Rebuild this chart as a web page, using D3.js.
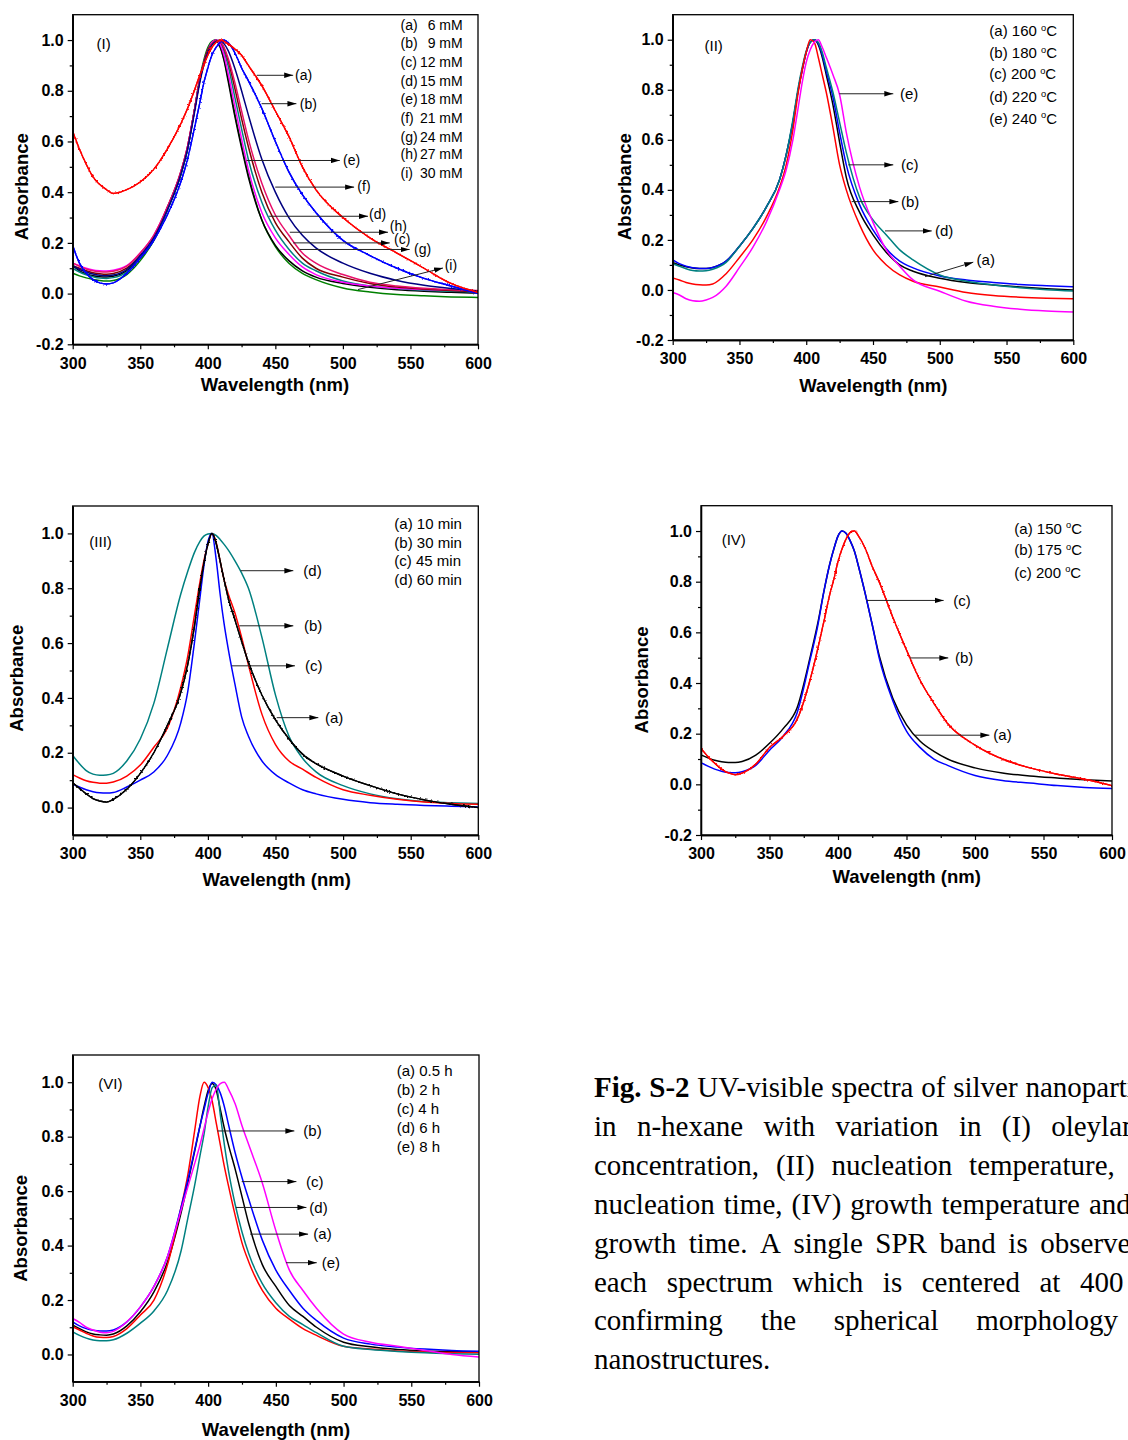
<!DOCTYPE html>
<html>
<head>
<meta charset="utf-8">
<script src="https://cdn.jsdelivr.net/npm/d3@7"></script>
<style>
  html, body { margin: 0; padding: 0; background: #fff; overflow: hidden; }
  #figure { position: absolute; left: 0; top: 0; }
  .tick text { font-family: "Liberation Sans", Arial, sans-serif; font-weight: bold; font-size: 16px; fill: #000; }
  .axis .domain { stroke: #000; stroke-width: 1.3px; }
  .axis line { stroke: #000; stroke-width: 1.2px; }
</style>
</head>
<body>
<svg id="figure" width="1128" height="1440"></svg>
<script>
// Shared wavelength grid (nm) for every spectrum
const wavelengths = [300,305,310,315,320,325,330,340,350,360,370,380,385,390,394,397,400,403,406,409,412,415,420,425,430,440,450,460,470,480,500,520,540,560,580,600];

// (I) oleylamine concentration
const oleyl6mM  = [.64,.57,.51,.46,.43,.41,.395,.41,.44,.49,.57,.67,.73,.80,.86,.90,.94,.97,.99,1.0,.995,.985,.965,.94,.90,.82,.72,.62,.50,.41,.30,.22,.16,.10,.04,.005];
const oleyl9mM  = [.19,.12,.08,.055,.042,.038,.042,.08,.14,.21,.31,.44,.53,.65,.75,.83,.89,.94,.97,.99,1.0,.99,.95,.89,.84,.73,.60,.48,.39,.32,.21,.15,.10,.06,.03,.0];
const oleyl12mM = [.11,.10,.09,.082,.078,.076,.079,.10,.15,.22,.34,.48,.58,.72,.84,.91,.96,.985,.998,.995,.967,.92,.81,.69,.58,.40,.28,.205,.14,.10,.065,.04,.026,.018,.012,.008];
const oleyl15mM = [.10,.085,.074,.066,.061,.06,.063,.085,.14,.21,.33,.47,.57,.72,.84,.91,.96,.99,1.0,.99,.955,.90,.775,.65,.53,.36,.25,.175,.12,.09,.05,.03,.02,.013,.009,.007];
const oleyl18mM = [.11,.09,.078,.07,.066,.065,.068,.09,.14,.21,.33,.47,.57,.72,.84,.91,.96,.99,1.0,.975,.92,.84,.70,.575,.46,.29,.19,.13,.09,.065,.04,.025,.015,.009,.005,.002];
const oleyl21mM = [.11,.095,.085,.077,.072,.07,.073,.095,.15,.22,.33,.47,.57,.71,.83,.90,.95,.98,.995,.999,.986,.959,.889,.80,.705,.53,.40,.30,.23,.18,.12,.08,.052,.033,.02,.01];
const oleyl24mM = [.12,.11,.10,.093,.09,.089,.092,.11,.16,.23,.34,.48,.58,.72,.84,.91,.96,.99,1.0,.984,.94,.87,.74,.61,.49,.32,.22,.155,.105,.075,.045,.03,.021,.016,.013,.011];
const oleyl27mM = [.12,.108,.097,.09,.086,.085,.088,.108,.16,.23,.34,.48,.58,.72,.84,.90,.95,.985,.998,.995,.971,.929,.833,.72,.61,.435,.31,.23,.16,.12,.075,.045,.03,.021,.015,.012];
const oleyl30mM = [.08,.07,.062,.056,.052,.05,.052,.075,.13,.21,.33,.47,.57,.72,.85,.92,.97,.995,1.0,.975,.925,.85,.71,.585,.47,.29,.185,.12,.08,.055,.022,.006,-.004,-.009,-.013,-.015];
const concentrationTags = ["(a)","(b)","(c)","(d)","(e)","(f)","(g)","(h)","(i)"];
const concentrationValues = ["6 mM","9 mM","12 mM","15 mM","18 mM","21 mM","24 mM","27 mM","30 mM"];

// (II) nucleation temperature
const nucT160 = [.11,.10,.093,.088,.086,.086,.09,.115,.175,.245,.33,.44,.54,.67,.80,.88,.95,.99,1.0,.98,.93,.86,.74,.59,.45,.31,.22,.15,.10,.075,.047,.03,.02,.012,.005,.0];
const nucT180 = [.048,.04,.03,.024,.021,.02,.024,.065,.13,.20,.29,.41,.50,.64,.79,.88,.95,1.0,.99,.93,.86,.79,.65,.50,.40,.26,.16,.10,.06,.035,.012,-.01,-.022,-.029,-.033,-.035];
const nucT200 = [.12,.105,.095,.089,.086,.086,.09,.115,.175,.245,.33,.44,.54,.67,.80,.88,.95,.99,1.0,.985,.94,.875,.77,.63,.50,.34,.24,.165,.115,.088,.056,.04,.03,.022,.017,.013];
const nucT220 = [.105,.095,.085,.078,.076,.077,.083,.11,.175,.245,.33,.44,.54,.68,.81,.89,.955,.99,1.0,.99,.95,.89,.79,.67,.55,.37,.28,.22,.16,.12,.06,.035,.02,.009,.001,-.004];
const nucT240 = [-.01,-.02,-.035,-.043,-.045,-.04,-.03,.015,.09,.17,.27,.40,.48,.60,.73,.83,.91,.96,.99,1.0,.97,.93,.86,.78,.63,.41,.27,.16,.095,.04,-.005,-.045,-.065,-.077,-.084,-.088];
const nucTempLabels = ["(a) 160 ","(b) 180 ","(c) 200 ","(d) 220 ","(e) 240 "];

// (III) nucleation time
const nucTime10 = [.09,.07,.05,.033,.024,.02,.03,.067,.125,.20,.30,.42,.52,.66,.80,.89,.96,1.0,.965,.90,.83,.765,.685,.605,.53,.41,.32,.25,.195,.16,.115,.08,.05,.028,.012,.0];
const nucTime30 = [.12,.108,.098,.092,.089,.089,.093,.115,.155,.22,.29,.44,.55,.70,.82,.90,.96,1.0,.97,.90,.83,.78,.71,.62,.52,.34,.23,.17,.14,.11,.065,.045,.03,.02,.015,.012];
const nucTime45 = [.085,.075,.065,.058,.054,.053,.055,.075,.10,.13,.19,.31,.42,.60,.76,.88,.97,1.0,.91,.78,.67,.58,.45,.33,.26,.17,.12,.09,.065,.05,.03,.018,.012,.008,.005,.002];
const nucTime60 = [.19,.16,.135,.122,.118,.119,.125,.17,.25,.38,.58,.78,.86,.93,.97,.99,.998,1.0,.993,.978,.96,.94,.90,.855,.80,.62,.41,.26,.18,.13,.08,.05,.032,.022,.018,.015];
const nucTimeLabels = ["(a) 10 min","(b) 30 min","(c) 45 min","(d) 60 min"];

// (IV) growth temperature
const grT150 = [.116,.105,.095,.089,.086,.086,.09,.115,.162,.22,.30,.51,.63,.77,.87,.93,.98,1.0,.99,.96,.92,.86,.75,.63,.51,.34,.235,.17,.13,.10,.065,.045,.033,.025,.018,.013];
const grT175 = [.142,.11,.083,.06,.045,.038,.044,.08,.145,.19,.255,.42,.53,.65,.75,.81,.88,.93,.97,.995,1.0,.98,.93,.86,.80,.66,.53,.41,.32,.24,.155,.10,.065,.04,.02,-.005];
const grT200 = [.086,.072,.06,.052,.047,.046,.05,.075,.135,.19,.28,.50,.62,.77,.87,.93,.98,1.0,.99,.96,.92,.86,.75,.63,.50,.33,.21,.145,.10,.075,.035,.015,.005,-.005,-.012,-.016];
const grTempLabels = ["(a) 150 ","(b) 175 ","(c) 200 "];

// (VI) growth time
const grTime05 = [.108,.095,.083,.075,.072,.071,.075,.105,.157,.23,.34,.52,.63,.745,.84,.91,.97,.995,.97,.90,.83,.77,.68,.58,.48,.33,.25,.18,.14,.10,.045,.028,.018,.013,.011,.01];
const grTime2  = [.102,.09,.078,.068,.063,.062,.066,.095,.145,.20,.33,.54,.66,.82,.95,1.0,.98,.93,.85,.77,.69,.62,.51,.41,.34,.235,.17,.13,.095,.07,.03,.02,.013,.009,.007,.006];
const grTime4  = [.12,.105,.095,.089,.086,.086,.09,.12,.175,.25,.36,.54,.64,.75,.84,.90,.96,1.0,.99,.96,.91,.845,.74,.65,.57,.42,.31,.235,.17,.125,.06,.038,.027,.02,.015,.012];
const grTime6  = [.083,.07,.06,.053,.05,.05,.054,.078,.115,.16,.235,.38,.50,.62,.73,.81,.91,.98,.99,.88,.77,.675,.55,.45,.37,.26,.19,.14,.11,.08,.03,.018,.011,.006,.003,.001];
const grTime8  = [.132,.118,.10,.09,.082,.08,.085,.12,.175,.25,.36,.53,.615,.70,.77,.83,.89,.94,.975,.995,1.0,.975,.92,.84,.77,.63,.455,.31,.235,.17,.075,.045,.03,.015,.0,-.009];
const grTimeLabels = ["(a) 0.5 h","(b) 2 h","(c) 4 h","(d) 6 h","(e) 8 h"];

const xTickValues = [300,350,400,450,500,550,600];
const xMinorValues = [325,375,425,475,525,575];

// caption text, one entry per printed line; the first line opens with two bold words
const captionLines = [
  "Fig. S-2 UV-visible spectra of silver nanoparticles",
  "in n-hexane with variation in (I) oleylamine",
  "concentration, (II) nucleation temperature, (III)",
  "nucleation time, (IV) growth temperature and (V)",
  "growth time. A single SPR band is observed in",
  "each spectrum which is centered at 400 nm",
  "confirming the spherical morphology of",
  "nanostructures."
];

// ---------- panel layout ----------
const panels = [
  {
    id: "I", left: 72.7, right: 478, top: 14.7, bottom: 344.3,
    yDomain: [-0.2, 1.1], yTicks: [-0.2,0,0.2,0.4,0.6,0.8,1.0], yMinor: [-0.1,0.1,0.3,0.5,0.7,0.9],
    series: [
      { v: oleyl30mM, c: "#008000" }, { v: oleyl18mM, c: "#000000" }, { v: oleyl15mM, c: "#008080" },
      { v: oleyl24mM, c: "#ff00ff" }, { v: oleyl12mM, c: "#800000" }, { v: oleyl27mM, c: "#e8106a" },
      { v: oleyl21mM, c: "#000080" }, { v: oleyl9mM, c: "#0000ff", noisy: true }, { v: oleyl6mM, c: "#ff0000", noisy: true }
    ],
    tag: { text: "(I)", x: 96.5, y: 43.3 },
    yTitle: { x: 21.7, y: 186.7 }, xTitle: { x: 275, y: 385 },
    arrowFont: 14,
    arrows: [
      { t: "(a)", x0: 436.3, y0: .861, x1: 463.2, y1: .861, lx: 464.6, ly: .861 },
      { t: "(b)", x0: 439.8, y0: .749, x1: 465.6, y1: .749, lx: 468.1, ly: .749 },
      { t: "(e)", x0: 428.7, y0: .525, x1: 497.7, y1: .525, lx: 500.1, ly: .525 },
      { t: "(f)", x0: 449.9, y0: .42, x1: 508.3, y1: .42, lx: 510.7, ly: .425 },
      { t: "(d)", x0: 445.4, y0: .305, x1: 518.6, y1: .305, lx: 519.4, ly: .312 },
      { t: "(h)", x0: 460.7, y0: .242, x1: 533.4, y1: .242, lx: 534.7, ly: .266 },
      { t: "(c)", x0: 463.2, y0: .20, x1: 534.7, y1: .20, lx: 537.9, ly: .213 },
      { t: "(g)", x0: 468.1, y0: .174, x1: 549.4, y1: .174, lx: 552.7, ly: .174 },
      { t: "(i)", x0: 511.2, y0: .016, x1: 574.1, y1: .101, lx: 575.3, ly: .114 }
    ]
  },
  {
    id: "II", left: 672.7, right: 1073.3, top: 14.7, bottom: 340,
    yDomain: [-0.2, 1.1], yTicks: [-0.2,0,0.2,0.4,0.6,0.8,1.0], yMinor: [-0.1,0.1,0.3,0.5,0.7,0.9],
    series: [
      { v: nucT160, c: "#000000" }, { v: nucT200, c: "#0000ff" }, { v: nucT220, c: "#008080" },
      { v: nucT180, c: "#ff0000" }, { v: nucT240, c: "#ff00ff" }
    ],
    tag: { text: "(II)", x: 704.5, y: 46 },
    yTitle: { x: 625, y: 186.7 }, xTitle: { x: 873.3, y: 386 },
    arrowFont: 15,
    arrows: [
      { t: "(e)", x0: 424.8, y0: .784, x1: 465.2, y1: .784, lx: 470.2, ly: .784 },
      { t: "(c)", x0: 431.5, y0: .50, x1: 465.2, y1: .50, lx: 471, ly: .50 },
      { t: "(b)", x0: 434, y0: .353, x1: 469, y1: .353, lx: 471, ly: .353 },
      { t: "(d)", x0: 459, y0: .236, x1: 494, y1: .236, lx: 496.4, ly: .236 },
      { t: "(a)", x0: 489, y0: .053, x1: 525.1, y1: .111, lx: 527.6, ly: .12 }
    ]
  },
  {
    id: "III", left: 72.7, right: 478.3, top: 506, bottom: 835,
    yDomain: [-0.1, 1.1], yTicks: [0,0.2,0.4,0.6,0.8,1.0], yMinor: [0.1,0.3,0.5,0.7,0.9],
    series: [
      { v: nucTime60, c: "#008080" }, { v: nucTime30, c: "#ff0000" },
      { v: nucTime45, c: "#0000ff" }, { v: nucTime10, c: "#000000", noisy: true }
    ],
    tag: { text: "(III)", x: 89.3, y: 541.7 },
    yTitle: { x: 16.7, y: 678.3 }, xTitle: { x: 276.7, y: 880 },
    arrowFont: 15,
    arrows: [
      { t: "(d)", x0: 424.2, y0: .864, x1: 463.2, y1: .864, lx: 470.6, ly: .864 },
      { t: "(b)", x0: 423.2, y0: .663, x1: 463.2, y1: .663, lx: 471, ly: .663 },
      { t: "(c)", x0: 417.6, y0: .517, x1: 464.4, y1: .517, lx: 471.8, ly: .517 },
      { t: "(a)", x0: 450.9, y0: .328, x1: 481.7, y1: .328, lx: 486.6, ly: .328 }
    ]
  },
  {
    id: "IV", left: 701, right: 1112, top: 505.7, bottom: 835,
    yDomain: [-0.2, 1.1], yTicks: [-0.2,0,0.2,0.4,0.6,0.8,1.0], yMinor: [-0.1,0.1,0.3,0.5,0.7,0.9],
    series: [
      { v: grT150, c: "#000000" }, { v: grT200, c: "#0000ff" }, { v: grT175, c: "#ff0000", noisy: true }
    ],
    tag: { text: "(IV)", x: 721.7, y: 539.3 },
    yTitle: { x: 641.7, y: 680 }, xTitle: { x: 906.7, y: 876.7 },
    arrowFont: 15,
    arrows: [
      { t: "(c)", x0: 420.9, y0: .726, x1: 477.1, y1: .726, lx: 484.2, ly: .726 },
      { t: "(b)", x0: 452.6, y0: .499, x1: 480.5, y1: .499, lx: 485.4, ly: .499 },
      { t: "(a)", x0: 456.2, y0: .194, x1: 510.5, y1: .194, lx: 513.4, ly: .194 }
    ]
  },
  {
    id: "VI", left: 72.7, right: 479, top: 1055, bottom: 1381.7,
    yDomain: [-0.1, 1.1], yTicks: [0,0.2,0.4,0.6,0.8,1.0], yMinor: [0.1,0.3,0.5,0.7,0.9],
    series: [
      { v: grTime05, c: "#000000" }, { v: grTime2, c: "#ff0000" }, { v: grTime4, c: "#0000ff" },
      { v: grTime6, c: "#008080" }, { v: grTime8, c: "#ff00ff" }
    ],
    tag: { text: "(VI)", x: 98.3, y: 1083.3 },
    yTitle: { x: 20.7, y: 1228.3 }, xTitle: { x: 276, y: 1429.3 },
    arrowFont: 15,
    arrows: [
      { t: "(b)", x0: 406.8, y0: .821, x1: 463.7, y1: .821, lx: 470.3, ly: .821 },
      { t: "(c)", x0: 424.8, y0: .635, x1: 465.2, y1: .635, lx: 472.3, ly: .635 },
      { t: "(d)", x0: 420.6, y0: .54, x1: 472.6, y1: .54, lx: 474.7, ly: .54 },
      { t: "(a)", x0: 431, y0: .442, x1: 473.8, y1: .442, lx: 477.7, ly: .442 },
      { t: "(e)", x0: 457.5, y0: .337, x1: 480.2, y1: .337, lx: 483.9, ly: .337 }
    ]
  }
];

const svg = d3.select("#figure");
const defs = svg.append("defs");

// ragged trace for the noisier measured spectra: the line plus a jittered copy of it
const jitter = defs.append("filter").attr("id", "jitter")
  .attr("x", "-5%").attr("y", "-5%").attr("width", "110%").attr("height", "110%");
jitter.append("feTurbulence").attr("type", "fractalNoise").attr("baseFrequency", "0.55")
  .attr("numOctaves", 1).attr("seed", 4).attr("result", "noise");
jitter.append("feDisplacementMap").attr("in", "SourceGraphic").attr("in2", "noise")
  .attr("scale", 3).attr("xChannelSelector", "R").attr("yChannelSelector", "G").attr("result", "shaken");
const merge = jitter.append("feMerge");
merge.append("feMergeNode").attr("in", "SourceGraphic");
merge.append("feMergeNode").attr("in", "shaken");

defs.append("marker").attr("id", "arrowhead")
  .attr("viewBox", "0 0 10 6").attr("refX", 10).attr("refY", 3)
  .attr("markerWidth", 9).attr("markerHeight", 6).attr("markerUnits", "userSpaceOnUse")
  .attr("orient", "auto")
  .append("path").attr("d", "M0,0 L10,3 L0,6 Z").attr("fill", "#000");

const sans = '"Liberation Sans", Arial, sans-serif';
const serif = '"Liberation Serif", "Times New Roman", serif';

function drawPanel(p) {
  const g = svg.append("g").attr("class", "panel panel-" + p.id);
  const x = d3.scaleLinear().domain([300, 600]).range([p.left, p.right]);
  const y = d3.scaleLinear().domain(p.yDomain).range([p.bottom, p.top]);

  const clipId = "clip-" + p.id;
  defs.append("clipPath").attr("id", clipId).append("rect")
    .attr("x", p.left).attr("y", p.top)
    .attr("width", p.right - p.left).attr("height", p.bottom - p.top);

  const line = d3.line()
    .x((d, i) => x(wavelengths[i]))
    .y(d => y(d))
    .curve(d3.curveMonotoneX);

  const curves = g.append("g").attr("clip-path", `url(#${clipId})`);
  p.series.forEach(s => {
    curves.append("path")
      .attr("d", line(s.v))
      .attr("fill", "none")
      .attr("stroke", s.c)
      .attr("stroke-width", s.noisy ? 1.4 : 1.5)
      .attr("stroke-linejoin", "round")
      .attr("filter", s.noisy ? "url(#jitter)" : null);
  });

  // axes
  g.append("g").attr("class", "axis").attr("transform", `translate(0,${p.bottom})`)
    .call(d3.axisBottom(x).tickValues(xTickValues).tickSize(5).tickPadding(8).tickSizeOuter(0).tickFormat(d3.format("d")));
  g.append("g").attr("class", "axis").attr("transform", `translate(0,${p.bottom})`)
    .call(d3.axisBottom(x).tickValues(xMinorValues).tickSize(3).tickSizeOuter(0).tickFormat(""));
  g.append("g").attr("class", "axis").attr("transform", `translate(${p.left},0)`)
    .call(d3.axisLeft(y).tickValues(p.yTicks).tickSize(5).tickPadding(4).tickSizeOuter(0).tickFormat(v => v.toFixed(1)));
  g.append("g").attr("class", "axis").attr("transform", `translate(${p.left},0)`)
    .call(d3.axisLeft(y).tickValues(p.yMinor).tickSize(3).tickSizeOuter(0).tickFormat(""));

  // frame
  g.append("rect").attr("x", p.left).attr("y", p.top)
    .attr("width", p.right - p.left).attr("height", p.bottom - p.top)
    .attr("fill", "none").attr("stroke", "#000").attr("stroke-width", 1.3);

  // axis titles
  g.append("text").attr("x", p.xTitle.x).attr("y", p.xTitle.y).attr("dy", "0.35em")
    .attr("text-anchor", "middle").attr("font-family", sans).attr("font-weight", "bold")
    .attr("font-size", 18.5).text("Wavelength (nm)");
  g.append("text").attr("transform", `translate(${p.yTitle.x},${p.yTitle.y}) rotate(-90)`)
    .attr("dy", "0.35em").attr("text-anchor", "middle").attr("font-family", sans)
    .attr("font-weight", "bold").attr("font-size", 18.5).text("Absorbance");

  // panel tag
  g.append("text").attr("x", p.tag.x).attr("y", p.tag.y).attr("dy", "0.35em")
    .attr("font-family", sans).attr("font-size", 15).text(p.tag.text);

  // pointer arrows
  p.arrows.forEach(a => {
    g.append("line")
      .attr("x1", x(a.x0)).attr("y1", y(a.y0)).attr("x2", x(a.x1)).attr("y2", y(a.y1))
      .attr("stroke", "#222").attr("stroke-width", 1).attr("marker-end", "url(#arrowhead)");
    g.append("text").attr("x", x(a.lx)).attr("y", y(a.ly)).attr("dy", "0.35em")
      .attr("font-family", sans).attr("font-size", p.arrowFont).text(a.t);
  });
  return g;
}

const drawn = panels.map(drawPanel);

// legends
function textRows(g, rows, x, ys, size, degree) {
  rows.forEach((r, i) => {
    const t = g.append("text").attr("x", x).attr("y", ys[i]).attr("dy", "0.35em")
      .attr("font-family", sans).attr("font-size", size);
    t.append("tspan").text(r);
    if (degree) {
      t.append("tspan").attr("font-size", size * 0.62).attr("dy", "-0.55em").text("o");
      t.append("tspan").attr("dy", "0.34em").text("C");
    }
  });
}

// (I): tag column plus right-aligned concentration column
const legI = drawn[0].append("g");
const rowsI = [25, 43.3, 62.3, 80.7, 99.3, 117.7, 136.7, 154.3, 173.3];
concentrationTags.forEach((tg, i) => {
  legI.append("text").attr("x", 400.5).attr("y", rowsI[i]).attr("dy", "0.35em")
    .attr("font-family", sans).attr("font-size", 14).text(tg);
  legI.append("text").attr("x", 462.7).attr("y", rowsI[i]).attr("dy", "0.35em")
    .attr("text-anchor", "end").attr("font-family", sans).attr("font-size", 14).text(concentrationValues[i]);
});
textRows(drawn[1], nucTempLabels, 989.3, [30.7, 52.7, 74, 96.7, 118.3], 15, true);
textRows(drawn[2], nucTimeLabels, 394.3, [523.3, 542.3, 560.7, 579.3], 15, false);
textRows(drawn[3], grTempLabels, 1014.3, [528.3, 550, 572.3], 15, true);
textRows(drawn[4], grTimeLabels, 396.7, [1071, 1090, 1109, 1128, 1147], 15, false);

// caption: justified block, each word placed so the line fills the column width
const capLeft = 594, capWidth = 586, capTop = 1097, capLead = 38.9, capSize = 29;
const capG = svg.append("g").attr("class", "caption");
captionLines.forEach((lineText, li) => {
  const words = lineText.split(" ");
  const t = capG.append("text").attr("y", capTop + li * capLead)
    .attr("font-family", serif).attr("font-size", capSize).attr("fill", "#000");
  const spans = words.map((w, wi) =>
    t.append("tspan").attr("font-weight", (li === 0 && wi < 2) ? "bold" : null).text(w));
  const widths = spans.map(s => s.node().getComputedTextLength());
  const total = d3.sum(widths);
  const last = li === captionLines.length - 1;
  const gap = (!last && words.length > 1) ? (capWidth - total) / (words.length - 1) : capSize * 0.25;
  let cx = capLeft;
  spans.forEach((s, wi) => { s.attr("x", cx); cx += widths[wi] + gap; });
});
</script>
</body>
</html>
